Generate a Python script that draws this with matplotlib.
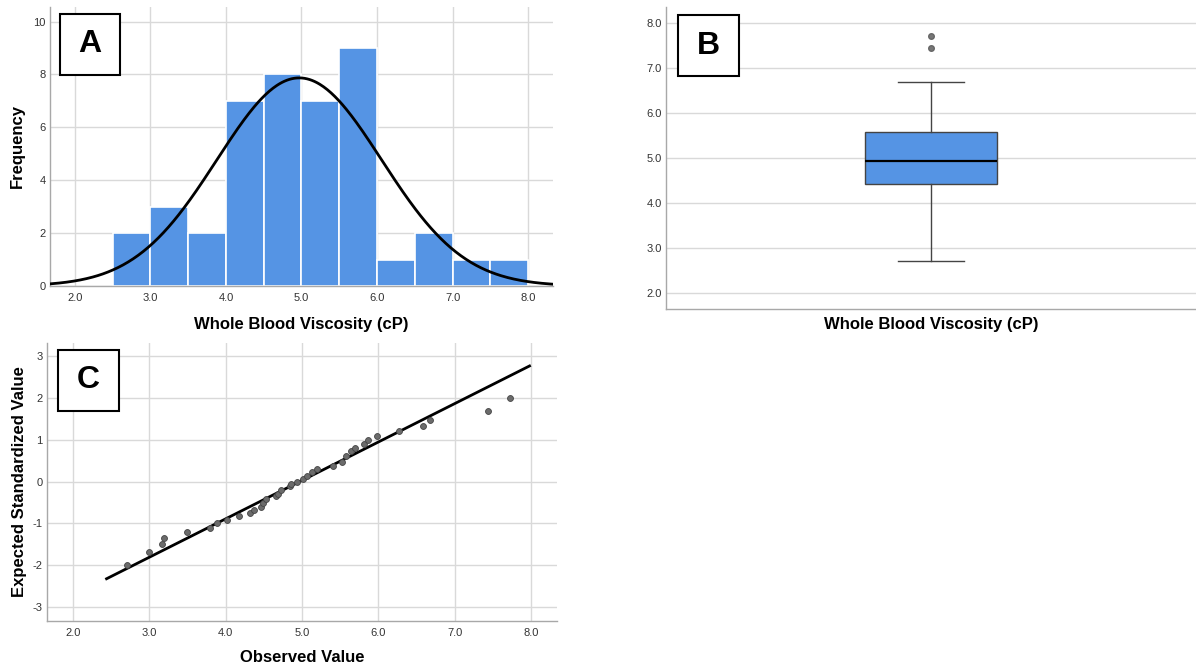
import numpy as np
import matplotlib
matplotlib.use("Agg")
import matplotlib.pyplot as plt
from matplotlib.patches import Rectangle

plt.rcParams['font.family'] = ['Liberation Sans', 'DejaVu Sans']
plt.rcParams['axes.unicode_minus'] = False

# Panel A: histogram of whole blood viscosity (bin width 0.5)
bin_edges = [2.5, 3.0, 3.5, 4.0, 4.5, 5.0, 5.5, 6.0, 6.5, 7.0, 7.5, 8.0]
bin_counts = [2, 3, 2, 7, 8, 7, 9, 1, 2, 1, 1]
n_total = 43
fit_mean = 4.97
fit_sd = 1.09

# Panel B: box plot summary
box_q1, box_median, box_q3 = 4.42, 4.94, 5.57
whisker_lo, whisker_hi = 2.71, 6.68
outliers = [7.44, 7.72]

# Panel C: normal Q-Q plot
observed = [2.71, 2.99, 3.17, 3.19, 3.49, 3.80, 3.89, 4.02, 4.17, 4.32,
            4.37, 4.46, 4.49, 4.53, 4.66, 4.68, 4.72, 4.84, 4.86, 4.94,
            5.01, 5.07, 5.13, 5.19, 5.41, 5.53, 5.58, 5.64, 5.70, 5.81,
            5.87, 5.98, 6.27, 6.58, 6.68, 7.44, 7.72]
expected = [-2.00, -1.69, -1.49, -1.34, -1.21, -1.10, -1.00, -0.91, -0.82, -0.75,
            -0.68, -0.60, -0.50, -0.41, -0.35, -0.29, -0.21, -0.10, -0.06, 0.00,
            0.05, 0.14, 0.22, 0.29, 0.37, 0.46, 0.60, 0.74, 0.81, 0.90,
            0.99, 1.08, 1.20, 1.33, 1.48, 1.68, 1.99]
qq_line_x = [2.44, 7.98]

blue = '#5594e4'
grid_c = '#d9d9d9'
spine_c = '#a8a8a8'
tick_c = '#333333'


def style(ax):
    ax.set_axisbelow(True)
    for s in ['top', 'right']:
        ax.spines[s].set_visible(False)
    for s in ['left', 'bottom']:
        ax.spines[s].set_color(spine_c)
        ax.spines[s].set_linewidth(1.0)
    ax.tick_params(length=0, labelsize=8, colors=tick_c, pad=3)
    ax.tick_params(axis='x', pad=5)


def letter_box(fig, x0, y0, x1, y1, text):
    W, H = 1196, 666
    fig.patches.append(Rectangle((x0 / W, 1 - y1 / H), (x1 - x0) / W, (y1 - y0) / H,
                                 transform=fig.transFigure, facecolor='white',
                                 edgecolor='black', linewidth=1.5, zorder=10))
    fig.text((x0 + x1) / 2 / W, 1 - (y0 + y1) / 2 / H, text, ha='center', va='center',
             fontsize=23, fontweight='bold', zorder=11)


fig = plt.figure(figsize=(11.96, 6.66), dpi=100)

# ---- A ----
axA = fig.add_axes([50 / 1196, 1 - 286 / 666, (553 - 50) / 1196, (286 - 7) / 666])
style(axA)
widths = np.diff(bin_edges)
axA.bar(bin_edges[:-1], bin_counts, width=widths, align='edge', color=blue,
        edgecolor='white', linewidth=1.2, zorder=2)
xs = np.linspace(1.67, 8.33, 400)
bw = bin_edges[1] - bin_edges[0]
ys = n_total * bw / (fit_sd * np.sqrt(2 * np.pi)) * np.exp(-0.5 * ((xs - fit_mean) / fit_sd) ** 2)
axA.plot(xs, ys, color='black', linewidth=2, zorder=3)
axA.set_xlim(1.67, 8.33)
axA.set_ylim(0, 10.55)
axA.set_xticks(np.arange(2, 8.1, 1.0))
axA.set_xticklabels([f'{v:.1f}' for v in np.arange(2, 8.1, 1.0)])
axA.set_yticks([0, 2, 4, 6, 8, 10])
axA.grid(True, color=grid_c, linewidth=1)
axA.set_xlabel('Whole Blood Viscosity (cP)', fontsize=12, fontweight='bold', labelpad=10)
axA.set_ylabel('Frequency', fontsize=12, fontweight='bold', labelpad=6)

# ---- B ----
axB = fig.add_axes([666 / 1196, 1 - 309 / 666, (1196 - 666) / 1196, (309 - 7) / 666])
style(axB)
stats = [dict(med=box_median, q1=box_q1, q3=box_q3, whislo=whisker_lo,
              whishi=whisker_hi, fliers=outliers)]
axB.bxp(stats, positions=[0.5], widths=0.25, patch_artist=True, showcaps=True,
        boxprops=dict(facecolor=blue, edgecolor='#444444', linewidth=1),
        medianprops=dict(color='black', linewidth=1.6),
        whiskerprops=dict(color='#444444', linewidth=1),
        capprops=dict(color='#444444', linewidth=1),
        capwidths=0.125,
        flierprops=dict(marker='o', markersize=4, markerfacecolor='#777777',
                        markeredgecolor='#666666'))
axB.set_xlim(0, 1)
axB.set_ylim(1.64, 8.36)
axB.set_xticks([])
axB.set_yticks(np.arange(2, 8.1, 1.0))
axB.set_yticklabels([f'{v:.1f}' for v in np.arange(2, 8.1, 1.0)])
axB.yaxis.grid(True, color=grid_c, linewidth=1)
axB.set_xlabel('Whole Blood Viscosity (cP)', fontsize=12, fontweight='bold', labelpad=6)

# ---- C ----
axC = fig.add_axes([47 / 1196, 1 - 621 / 666, (557 - 47) / 1196, (621 - 343) / 666])
style(axC)
lx = np.array(qq_line_x)
axC.plot(lx, (lx - fit_mean) / fit_sd, color='black', linewidth=2, zorder=3)
axC.scatter(observed, expected, s=18, color='#6b6b6b', edgecolors='#444444',
            linewidths=0.6, zorder=4)
axC.set_xlim(1.66, 8.34)
axC.set_ylim(-3.33, 3.31)
axC.set_xticks(np.arange(2, 8.1, 1.0))
axC.set_xticklabels([f'{v:.1f}' for v in np.arange(2, 8.1, 1.0)])
axC.set_yticks(np.arange(-3, 4, 1))
axC.grid(True, color=grid_c, linewidth=1)
axC.set_xlabel('Observed Value', fontsize=12, fontweight='bold', labelpad=9)
axC.set_ylabel('Expected Standardized Value', fontsize=12, fontweight='bold', labelpad=4)

letter_box(fig, 60, 14, 120, 75, 'A')
letter_box(fig, 678, 15, 739, 76, 'B')
letter_box(fig, 58, 350, 119, 411, 'C')

fig.savefig('out.png', dpi=100)
